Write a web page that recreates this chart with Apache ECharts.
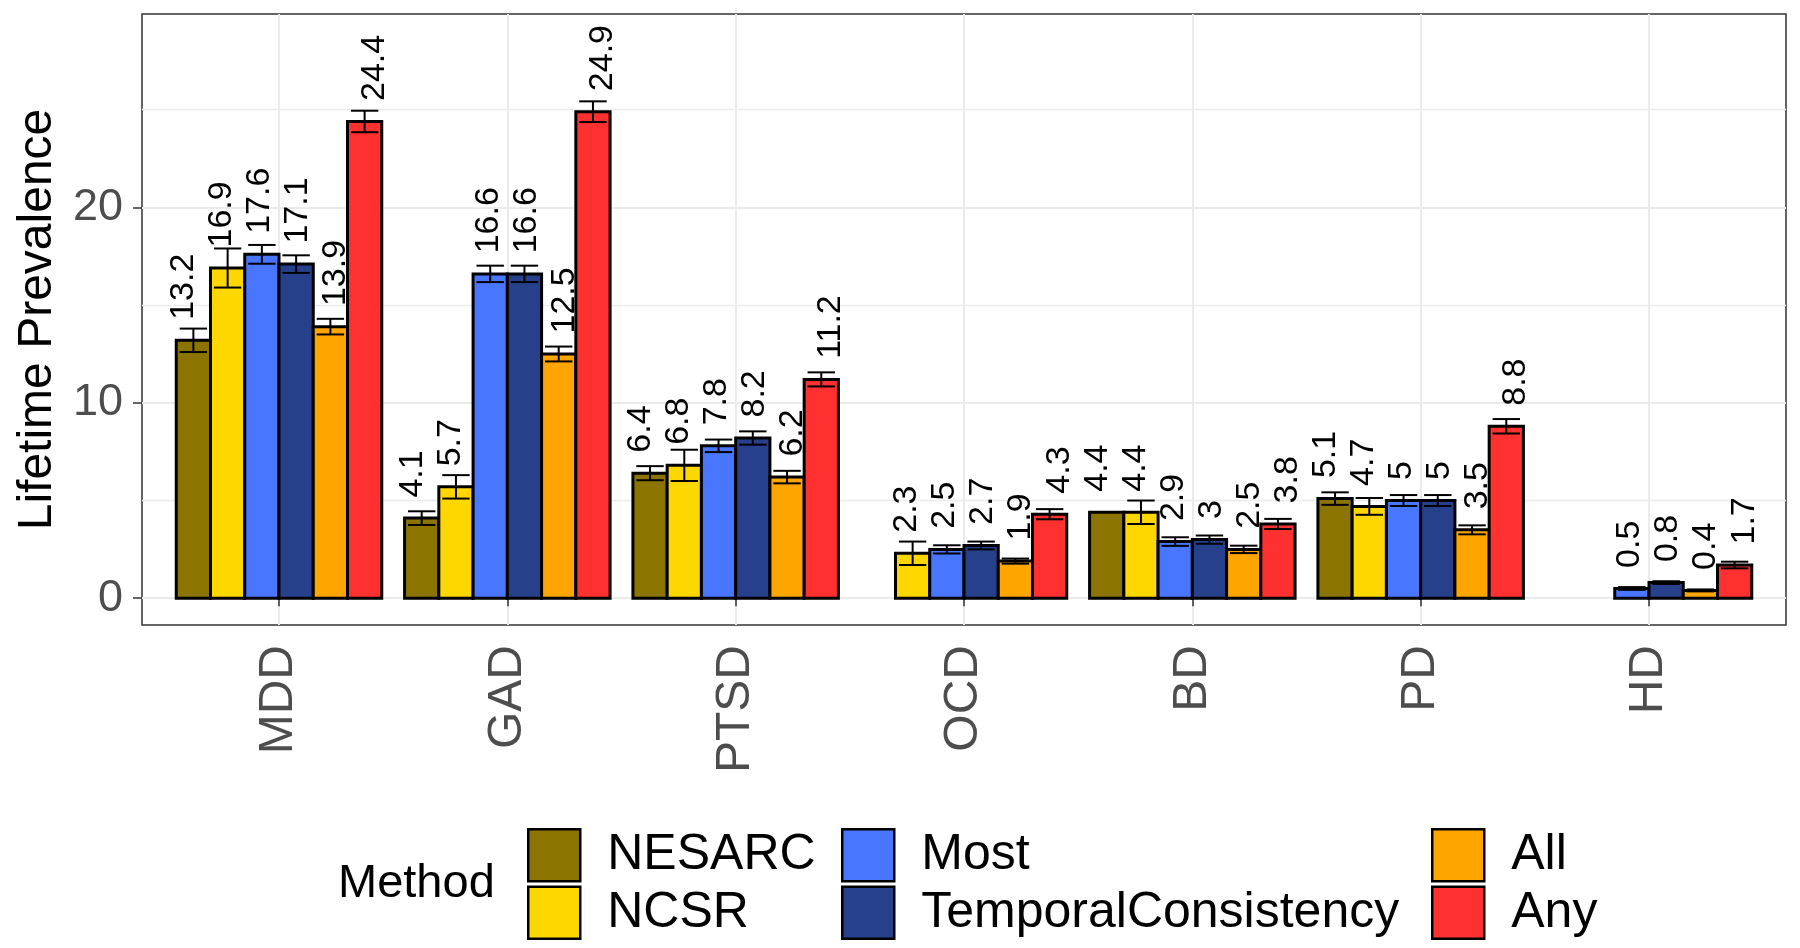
<!DOCTYPE html>
<html>
<head>
<meta charset="utf-8">
<script src="https://cdn.jsdelivr.net/npm/echarts@6/dist/echarts.min.js"></script>
<style>html,body{margin:0;padding:0;background:#fff}#c{width:1800px;height:948px}</style>
</head>
<body>
<div id="c"></div>
<script>
// ---------- data ----------
const categories = ['MDD', 'GAD', 'PTSD', 'OCD', 'BD', 'PD', 'HD'];
const methods = ['NESARC', 'NCSR', 'Most', 'TemporalConsistency', 'All', 'Any'];

const NESARC = [13.2, 4.1, 6.4, null, 4.4, 5.1, null];
const NCSR = [16.9, 5.7, 6.8, 2.3, 4.4, 4.7, null];
const Most = [17.6, 16.6, 7.8, 2.5, 2.9, 5, 0.5];
const TemporalConsistency = [17.1, 16.6, 8.2, 2.7, 3, 5, 0.8];
const All = [13.9, 12.5, 6.2, 1.9, 2.5, 3.5, 0.4];
const Any = [24.4, 24.9, 11.2, 4.3, 3.8, 8.8, 1.7];

// half-width of the error bars
const NESARC_err = [0.6, 0.35, 0.36, null, 0, 0.32, null];
const NCSR_err = [1.0, 0.6, 0.8, 0.6, 0.6, 0.43, null];
const Most_err = [0.48, 0.42, 0.32, 0.21, 0.22, 0.28, 0.07];
const TemporalConsistency_err = [0.45, 0.42, 0.34, 0.2, 0.21, 0.28, 0.07];
const All_err = [0.4, 0.38, 0.32, 0.13, 0.19, 0.23, 0.05];
const Any_err = [0.55, 0.53, 0.36, 0.26, 0.26, 0.37, 0.17];

const yTicksMajor = [0, 10, 20];
const yTicksMinor = [5, 15, 25];

// ---------- style ----------
const colors = ['#8B7500', '#FFD700', '#4876FF', '#27408B', '#FFA500', '#FF3030'];
const FONT = '"Liberation Sans", Arial, Helvetica, sans-serif';
const BAR_W = 0.15;      // 0.9 dodge / 6 bars
const CAP_HALF = 0.06;
const LABEL_STEP = 1 / 6; // text dodged with width 1
const LABEL_OFFSET = 1.05;

const valueSets = [NESARC, NCSR, Most, TemporalConsistency, All, Any];
const errSets = [NESARC_err, NCSR_err, Most_err, TemporalConsistency_err, All_err, Any_err];

function fmt(v) { return String(Math.round(v * 10) / 10); }

function makeRender(slot, color) {
  return function (params, api) {
    const ci = api.value(0);
    const v = api.value(1);
    const e = api.value(2);
    const xc = ci + (slot - 2.5) * BAR_W;
    const p0 = api.coord([xc - BAR_W / 2, v]);
    const p1 = api.coord([xc + BAR_W / 2, 0]);
    const children = [{
      type: 'rect',
      shape: { x: p0[0], y: p0[1], width: p1[0] - p0[0], height: p1[1] - p0[1] },
      style: { fill: color, stroke: '#000', lineWidth: 3 }
    }];
    if (e > 0) {
      const top = api.coord([xc, v + e]);
      const bot = api.coord([xc, v - e]);
      const cl = api.coord([xc - CAP_HALF, 0])[0];
      const cr = api.coord([xc + CAP_HALF, 0])[0];
      const ls = { stroke: '#000', lineWidth: 2 };
      children.push({ type: 'line', shape: { x1: top[0], y1: top[1], x2: bot[0], y2: bot[1] }, style: ls });
      children.push({ type: 'line', shape: { x1: cl, y1: top[1], x2: cr, y2: top[1] }, style: ls });
      children.push({ type: 'line', shape: { x1: cl, y1: bot[1], x2: cr, y2: bot[1] }, style: ls });
    }
    const lp = api.coord([ci + (slot - 2.5) * LABEL_STEP, v + LABEL_OFFSET]);
    children.push({
      type: 'text', x: lp[0], y: lp[1], rotation: Math.PI / 2,
      style: { text: fmt(v), fill: '#000', fontSize: 34, fontFamily: FONT, align: 'left', verticalAlign: 'middle' }
    });
    return { type: 'group', children: children };
  };
}

const series = methods.map((m, k) => ({
  name: m,
  type: 'custom',
  xAxisIndex: 0,
  yAxisIndex: 0,
  itemStyle: { color: colors[k] },
  renderItem: makeRender(k, colors[k]),
  data: categories.map((c, i) => valueSets[k][i] == null ? null : [i + 1, valueSets[k][i], errSets[k][i]]).filter(d => d !== null)
}));

const catTicks = categories.map((c, i) => i + 1);

const legendLefts = [527, 841, 1431];

const option = {
  animation: false,
  backgroundColor: '#fff',
  title: {
    text: 'Method', left: 338, top: 856, padding: 0,
    textStyle: { fontSize: 47, fontWeight: 'normal', color: '#000', fontFamily: FONT, lineHeight: 56 }
  },
  legend: legendLefts.map((l, k) => ({
    orient: 'vertical', left: l, top: 828, padding: 0, itemGap: 3,
    itemWidth: 52, itemHeight: 52, icon: 'rect', selectedMode: false,
    data: methods.slice(k * 2, k * 2 + 2),
    itemStyle: { borderColor: '#000', borderWidth: 2.5 },
    textStyle: { fontSize: 50, fontFamily: FONT, color: '#000', padding: [0, 0, 0, 22], lineHeight: 52 }
  })),
  grid: {
    left: 142, right: 14, top: 14, bottom: 323,
    show: true, borderColor: '#333', borderWidth: 1.5, backgroundColor: '#fff'
  },
  xAxis: {
    type: 'value', min: 0.4, max: 7.6,
    axisLine: { show: false },
    axisTick: { show: true, length: 8, customValues: catTicks, lineStyle: { color: '#333', width: 1.5 } },
    axisLabel: {
      customValues: catTicks, rotate: 90, margin: 20, fontSize: 48, fontFamily: FONT, color: '#4D4D4D',
      formatter: v => categories[Math.round(v) - 1] || ''
    },
    splitLine: { show: true, lineStyle: { color: '#EBEBEB', width: 2 } }
  },
  yAxis: [{
    type: 'value', min: -1.37, max: 29.9, position: 'left',
    name: 'Lifetime Prevalence', nameLocation: 'middle', nameGap: 80, nameRotate: 90,
    nameTextStyle: { fontSize: 48, fontFamily: FONT, color: '#000' },
    axisLine: { show: false },
    axisTick: { show: true, length: 9, customValues: yTicksMajor, lineStyle: { color: '#333', width: 1.5 } },
    axisLabel: { customValues: yTicksMajor, margin: 19, fontSize: 45, fontFamily: FONT, color: '#4D4D4D' },
    splitLine: { show: true, lineStyle: { color: '#EBEBEB', width: 2 } }
  }, {
    type: 'value', min: -1.37, max: 29.9, position: 'left',
    axisLine: { show: false },
    axisTick: { show: false, customValues: yTicksMinor },
    axisLabel: { show: false, customValues: yTicksMinor },
    splitLine: { show: true, lineStyle: { color: '#EBEBEB', width: 1.3 } }
  }],
  series: series
};

const chart = echarts.init(document.getElementById('c'), null, { renderer: 'canvas' });
chart.setOption(option);
</script>
</body>
</html>
